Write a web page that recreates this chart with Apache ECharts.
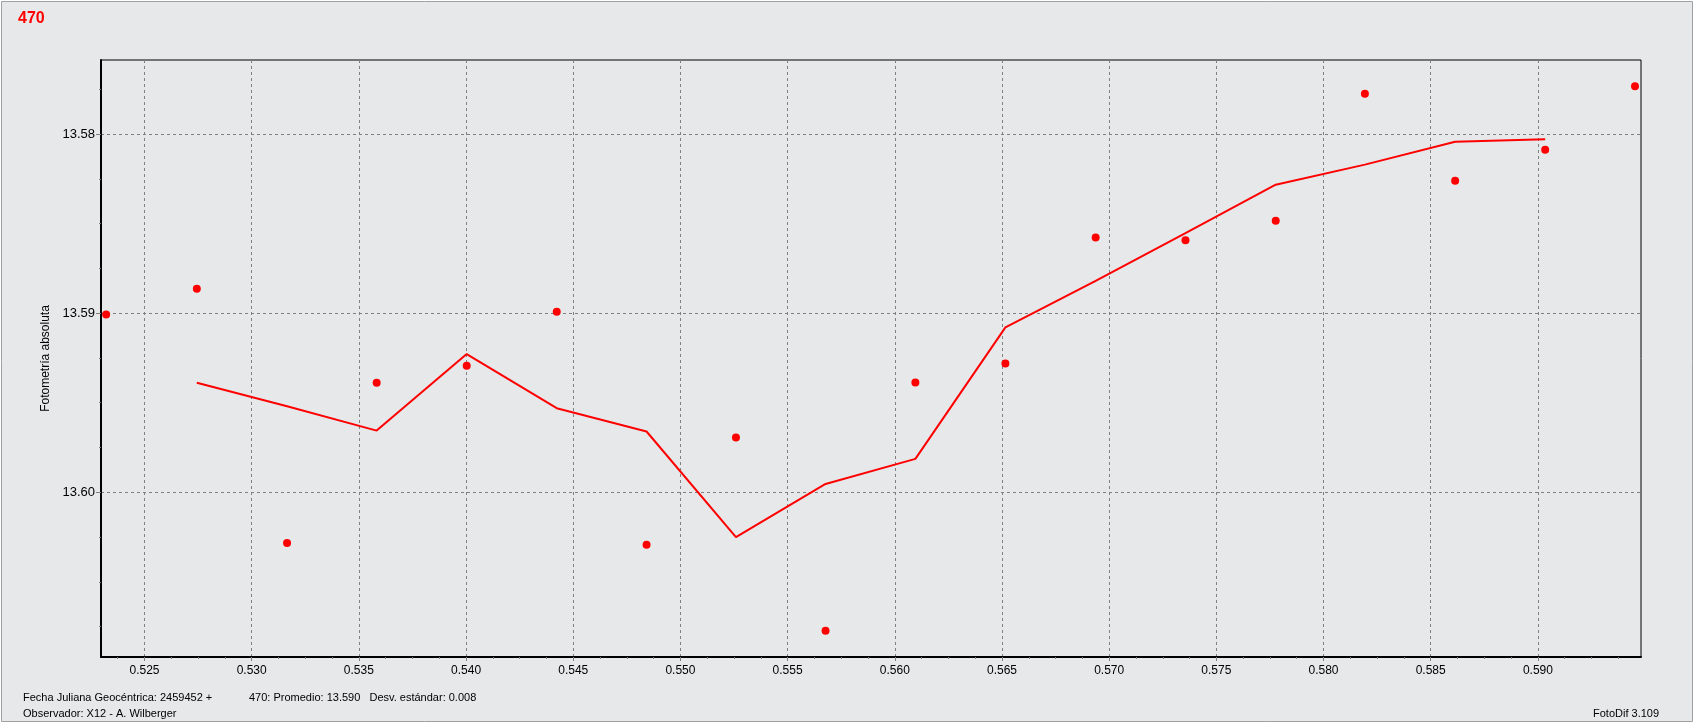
<!DOCTYPE html>
<html>
<head>
<meta charset="utf-8">
<script src="https://cdn.jsdelivr.net/npm/echarts@6/dist/echarts.min.js"></script>
<style>
html,body{margin:0;padding:0;background:#ffffff;}
#chart{width:1695px;height:726px;}
</style>
</head>
<body>
<div id="chart"></div>
<script>
// ---- data ----
const pointX = [0.52321, 0.52744, 0.53165, 0.53583, 0.54003, 0.54423, 0.54842, 0.55259, 0.55677,
                0.56096, 0.56516, 0.56937, 0.57356, 0.57777, 0.58193, 0.58614, 0.59034, 0.59453];
const pointY = [13.59008, 13.58864, 13.60283, 13.59389, 13.59294, 13.58993, 13.60294, 13.59695, 13.60773,
                13.59388, 13.59282, 13.58578, 13.58594, 13.58484, 13.57775, 13.58261, 13.58088, 13.57734];
const lineX = [0.52744, 0.53165, 0.53583, 0.54003, 0.54423, 0.54842, 0.55259, 0.55677,
               0.56096, 0.56516, 0.56937, 0.57356, 0.57777, 0.58193, 0.58614, 0.59034];
const lineY = [13.59389, 13.59520, 13.59656, 13.59229, 13.59531, 13.59661, 13.60251, 13.59954,
               13.59814, 13.59080, 13.58820, 13.58553, 13.58283, 13.58171, 13.58043, 13.58030];
const xTickLabels = [0.525, 0.530, 0.535, 0.540, 0.545, 0.550, 0.555, 0.560, 0.565, 0.570, 0.575, 0.580, 0.585, 0.590];
const yTickLabels = [13.58, 13.59, 13.60];
const titleText = '470';
const yAxisName = 'Fotometría absoluta';
const footerLeft1 = 'Fecha Juliana Geocéntrica: 2459452 +';
const footerLeft2 = 'Observador: X12 - A. Wilberger';
const footerStats = '470: Promedio: 13.590   Desv. estándar: 0.008';
const footerRight = 'FotoDif 3.109';

const xMin = 0.52297, xMax = 0.59481;
const yMin = 13.57587, yMax = 13.60920;

const pointData = pointX.map((x, i) => [x, pointY[i]]);
const lineData = lineX.map((x, i) => [x, lineY[i]]);

const BG = '#e7e8ea';
const FONT = '"Liberation Sans", Arial, sans-serif';

const chart = echarts.init(document.getElementById('chart'), null, {renderer: 'canvas'});
chart.setOption({
  animation: false,
  backgroundColor: '#ffffff',
  graphic: [
    {type: 'rect', z: -10, silent: true,
     shape: {x: 1.5, y: 1.5, width: 1691, height: 720},
     style: {fill: BG, stroke: '#a0a0a0', lineWidth: 1}},
    {type: 'text', left: 18, top: 11, z: 10,
     style: {text: titleText, fill: '#ff0000', font: 'bold 16px ' + FONT}},
    {type: 'text', left: 23, top: 692, z: 10,
     style: {text: footerLeft1, fill: '#000000', font: '11px ' + FONT}},
    {type: 'text', left: 23, top: 708, z: 10,
     style: {text: footerLeft2, fill: '#000000', font: '11px ' + FONT}},
    {type: 'text', left: 249, top: 692, z: 10,
     style: {text: footerStats.replace(/   /g, '\u00a0\u00a0\u00a0'), fill: '#000000', font: '11px ' + FONT}},
    {type: 'text', left: 1593, top: 708, z: 10,
     style: {text: footerRight, fill: '#000000', font: '11px ' + FONT}}
  ],
  grid: {
    left: 101, top: 60, right: 54, bottom: 69,
    show: true, backgroundColor: BG, borderColor: '#000000', borderWidth: 1,
    containLabel: false
  },
  xAxis: {
    type: 'value', min: xMin, max: xMax, splitNumber: 14,
    axisLine: {show: true, onZero: false, lineStyle: {color: '#000000', width: 2}},
    axisTick: {show: true, length: 4, lineStyle: {color: '#808080'}, customValues: xTickLabels},
    minorTick: {show: true, splitNumber: 4, length: 2, lineStyle: {color: '#808080'}},
    axisLabel: {customValues: xTickLabels, margin: 8, color: '#000000', fontFamily: FONT, fontSize: 12,
                formatter: v => v.toFixed(3)},
    splitLine: {show: true, showMinLine: true, showMaxLine: true,
                lineStyle: {color: '#808080', type: [3, 3], width: 1}}
  },
  yAxis: {
    type: 'value', inverse: true, min: yMin, max: yMax, splitNumber: 3,
    name: yAxisName, nameLocation: 'middle', nameGap: 43, nameRotate: 90,
    nameTextStyle: {color: '#000000', fontFamily: FONT, fontSize: 12},
    axisLine: {show: true, onZero: false, lineStyle: {color: '#000000', width: 2}},
    axisTick: {show: true, length: 5, lineStyle: {color: '#808080'}, customValues: yTickLabels},
    minorTick: {show: true, splitNumber: 4, length: 2, lineStyle: {color: '#808080'}},
    axisLabel: {customValues: yTickLabels, margin: 6, color: '#000000', fontFamily: FONT, fontSize: 13,
                formatter: v => v.toFixed(2)},
    splitLine: {show: true, showMinLine: true, showMaxLine: true,
                lineStyle: {color: '#808080', type: [3, 3], width: 1}}
  },
  series: [
    {type: 'line', data: lineData, showSymbol: false, symbol: 'none',
     lineStyle: {color: '#ff0000', width: 2}, z: 3},
    {type: 'scatter', data: pointData, symbol: 'circle', symbolSize: 8,
     itemStyle: {color: '#ff0000', opacity: 1}, z: 4}
  ]
});
</script>
</body>
</html>
